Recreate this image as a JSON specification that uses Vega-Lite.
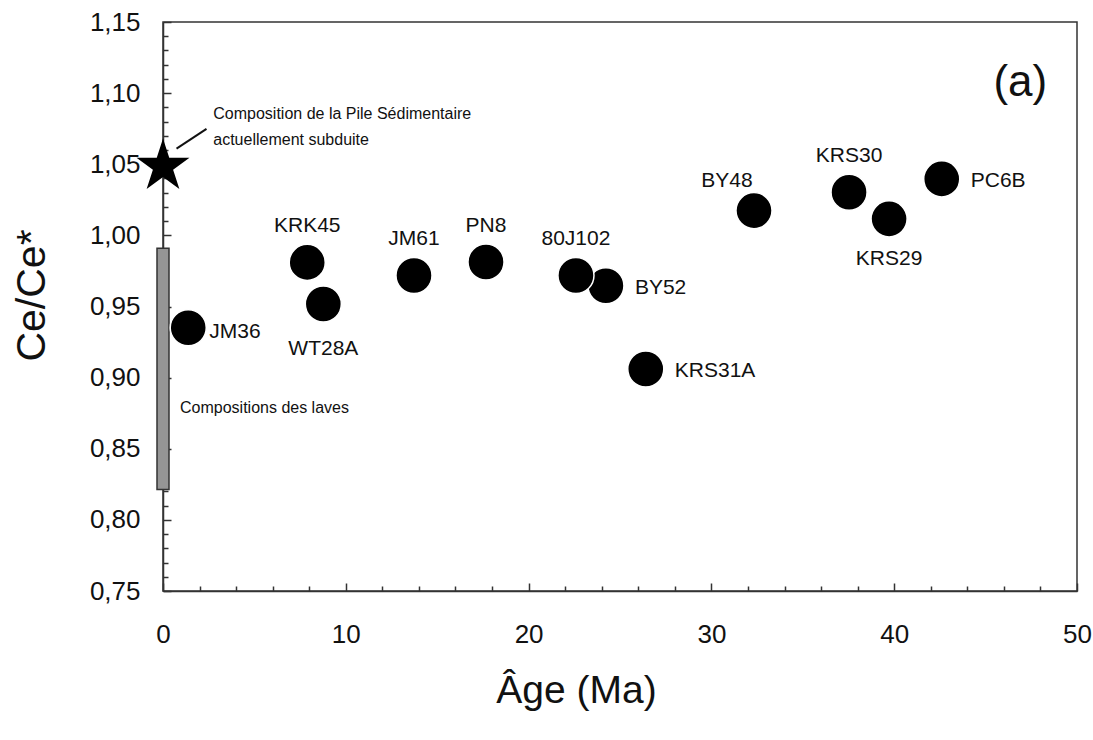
{
  "$schema": "https://vega.github.io/schema/vega-lite/v6.json",
  "autosize": "none",
  "width": 914,
  "height": 569,
  "padding": {"left": 163, "top": 22, "right": 16, "bottom": 149},
  "background": "white",
  "config": {
    "font": "Liberation Sans",
    "view": {"stroke": "#333333", "strokeWidth": 1.5},
    "axis": {"domainColor": "#333333", "domainWidth": 1.5, "tickColor": "#333333", "tickWidth": 1.5, "grid": false, "labelFont": "Liberation Sans", "titleFont": "Liberation Sans", "labelColor": "#111111", "titleColor": "#111111", "titleFontWeight": "normal", "labelOverlap": false}
  },
  "resolve": {"scale": {"x": "shared", "y": "shared"}, "axis": {"x": "independent", "y": "independent"}},
  "datasets": {
    "pts": [
      {"sample": "JM36", "age": 1.38, "ce": 0.935},
      {"sample": "KRK45", "age": 7.89, "ce": 0.981},
      {"sample": "WT28A", "age": 8.77, "ce": 0.9517},
      {"sample": "JM61", "age": 13.73, "ce": 0.9718},
      {"sample": "PN8", "age": 17.67, "ce": 0.9813},
      {"sample": "BY52", "age": 24.23, "ce": 0.9646},
      {"sample": "80J102", "age": 22.59, "ce": 0.9718},
      {"sample": "KRS31A", "age": 26.41, "ce": 0.9061},
      {"sample": "BY48", "age": 32.33, "ce": 1.0174},
      {"sample": "KRS30", "age": 37.53, "ce": 1.0303},
      {"sample": "KRS29", "age": 39.72, "ce": 1.0116},
      {"sample": "PC6B", "age": 42.6, "ce": 1.0397}
    ],
    "bar": [{"age": 0, "low": 0.8214, "high": 0.991}],
    "star": [{"age": 0, "ce": 1.0485}],
    "leader": [{"x1": 0.74, "y1": 1.061, "x2": 2.38, "y2": 1.0749}],
    "notes": [
      {"text": "Composition de la Pile Sédimentaire", "age": 2.75, "ce": 1.085},
      {"text": "actuellement subduite", "age": 2.75, "ce": 1.0673},
      {"text": "Compositions des laves", "age": 0.93, "ce": 0.8787}
    ],
    "panel": [{"text": "(a)", "age": 46.9, "ce": 1.1068}]
  },
  "layer": [
    {
      "data": {"name": "bar"},
      "mark": {"type": "bar", "size": 12, "color": "#959595", "stroke": "#333333", "strokeWidth": 1.5},
      "encoding": {
        "x": {"field": "age", "type": "quantitative", "scale": {"domain": [0, 50], "nice": false, "zero": false, "padding": 0},
          "axis": {"orient": "bottom", "values": [0, 10, 20, 30, 40, 50],
            "tickSize": -8,
            "labelFontSize": 26, "labelPadding": 38, "labelBaseline": "top", "labelFlush": false,
            "title": "Âge (Ma)", "titleFontSize": 39, "titleX": 413, "titleY": 111, "titleBaseline": "alphabetic", "titleAlign": "center"}},
        "y": {"field": "low", "type": "quantitative", "scale": {"domain": [0.75, 1.15], "nice": false, "zero": false, "padding": 0},
          "axis": {"orient": "left", "values": [0.75, 0.8, 0.85, 0.9, 0.95, 1.0, 1.05, 1.1, 1.15],
            "tickSize": -8,
            "labelExpr": "replace(format(datum.value, '.2f'), '.', ',')",
            "labelFontSize": 26, "labelPadding": 31, "labelFlush": false,
            "title": "Ce/Ce*", "titleFontSize": 41, "titleAngle": 270, "titleX": -131, "titleY": 273, "titleBaseline": "middle", "titleAlign": "center"}},
        "y2": {"field": "high"}
      }
    },
    {
      "data": {"name": "leader"},
      "mark": {"type": "rule", "color": "#111111", "strokeWidth": 2},
      "encoding": {
        "x": {"field": "x1", "type": "quantitative",
          "axis": {"orient": "bottom", "values": [2,4,6,8,12,14,16,18,22,24,26,28,32,34,36,38,42,44,46,48], "tickSize": -5, "labels": false, "domain": false, "title": null}},
        "y": {"field": "y1", "type": "quantitative",
          "axis": {"orient": "left", "values": [0.76,0.77,0.78,0.79,0.81,0.82,0.83,0.84,0.86,0.87,0.88,0.89,0.91,0.92,0.93,0.94,0.96,0.97,0.98,0.99,1.01,1.02,1.03,1.04,1.06,1.07,1.08,1.09,1.11,1.12,1.13,1.14], "tickSize": -5, "labels": false, "domain": false, "title": null}},
        "x2": {"field": "x2"},
        "y2": {"field": "y2"}
      }
    },
    {
      "data": {"name": "star"},
      "mark": {"type": "point", "filled": true, "color": "#000000", "opacity": 1, "size": 3100,
        "shape": "M0,-1L0.2245,-0.309L0.951,-0.309L0.363,0.118L0.588,0.809L0,0.382L-0.588,0.809L-0.363,0.118L-0.951,-0.309L-0.2245,-0.309Z"},
      "encoding": {
        "x": {"field": "age", "type": "quantitative", "axis": null},
        "y": {"field": "ce", "type": "quantitative", "axis": null}
      }
    },
    {
      "data": {"name": "pts"},
      "mark": {"type": "circle", "color": "#000000", "opacity": 1, "size": 1300, "stroke": "#ffffff", "strokeWidth": 1.5},
      "encoding": {
        "x": {"field": "age", "type": "quantitative", "axis": null},
        "y": {"field": "ce", "type": "quantitative", "axis": null}
      }
    },
    {
      "data": {"name": "pts"},
      "transform": [{"filter": {"field": "sample", "oneOf": ["KRK45", "JM61", "PN8", "80J102", "KRS30"]}}],
      "mark": {"type": "text", "fontSize": 21, "color": "#111111", "align": "center", "baseline": "middle", "dy": -36},
      "encoding": {
        "x": {"field": "age", "type": "quantitative", "axis": null},
        "y": {"field": "ce", "type": "quantitative", "axis": null},
        "text": {"field": "sample"}
      }
    },
    {
      "data": {"name": "pts"},
      "transform": [{"filter": {"field": "sample", "oneOf": ["BY52", "KRS31A", "PC6B"]}}],
      "mark": {"type": "text", "fontSize": 21, "color": "#111111", "align": "left", "baseline": "middle", "dx": 29, "dy": 2},
      "encoding": {
        "x": {"field": "age", "type": "quantitative", "axis": null},
        "y": {"field": "ce", "type": "quantitative", "axis": null},
        "text": {"field": "sample"}
      }
    },
    {
      "data": {"name": "pts"},
      "transform": [{"filter": {"field": "sample", "equal": "JM36"}}],
      "mark": {"type": "text", "fontSize": 21, "color": "#111111", "align": "left", "baseline": "middle", "dx": 21, "dy": 4},
      "encoding": {
        "x": {"field": "age", "type": "quantitative", "axis": null},
        "y": {"field": "ce", "type": "quantitative", "axis": null},
        "text": {"field": "sample"}
      }
    },
    {
      "data": {"name": "pts"},
      "transform": [{"filter": {"field": "sample", "equal": "WT28A"}}],
      "mark": {"type": "text", "fontSize": 21, "color": "#111111", "align": "center", "baseline": "middle", "dy": 45},
      "encoding": {
        "x": {"field": "age", "type": "quantitative", "axis": null},
        "y": {"field": "ce", "type": "quantitative", "axis": null},
        "text": {"field": "sample"}
      }
    },
    {
      "data": {"name": "pts"},
      "transform": [{"filter": {"field": "sample", "equal": "KRS29"}}],
      "mark": {"type": "text", "fontSize": 21, "color": "#111111", "align": "center", "baseline": "middle", "dy": 40},
      "encoding": {
        "x": {"field": "age", "type": "quantitative", "axis": null},
        "y": {"field": "ce", "type": "quantitative", "axis": null},
        "text": {"field": "sample"}
      }
    },
    {
      "data": {"name": "pts"},
      "transform": [{"filter": {"field": "sample", "equal": "BY48"}}],
      "mark": {"type": "text", "fontSize": 21, "color": "#111111", "align": "center", "baseline": "middle", "dx": -27, "dy": -30},
      "encoding": {
        "x": {"field": "age", "type": "quantitative", "axis": null},
        "y": {"field": "ce", "type": "quantitative", "axis": null},
        "text": {"field": "sample"}
      }
    },
    {
      "data": {"name": "notes"},
      "mark": {"type": "text", "fontSize": 16, "color": "#111111", "align": "left", "baseline": "middle"},
      "encoding": {
        "x": {"field": "age", "type": "quantitative", "axis": null},
        "y": {"field": "ce", "type": "quantitative", "axis": null},
        "text": {"field": "text"}
      }
    },
    {
      "data": {"name": "panel"},
      "mark": {"type": "text", "fontSize": 44, "color": "#111111", "align": "center", "baseline": "middle"},
      "encoding": {
        "x": {"field": "age", "type": "quantitative", "axis": null},
        "y": {"field": "ce", "type": "quantitative", "axis": null},
        "text": {"field": "text"}
      }
    }
  ]
}
